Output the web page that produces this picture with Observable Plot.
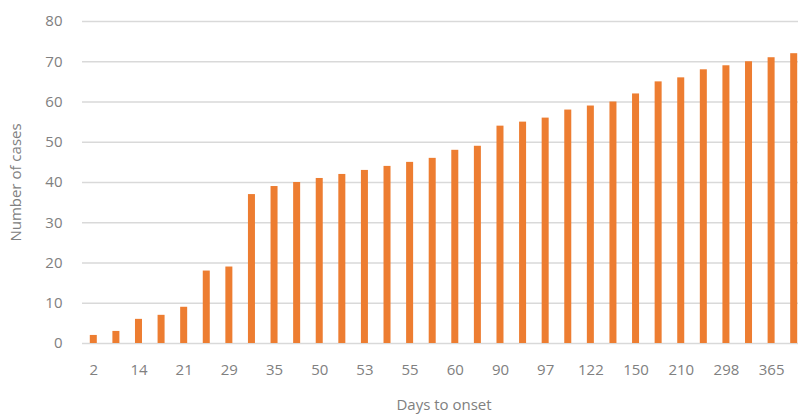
<!DOCTYPE html>
<html>
<head>
<meta charset="utf-8">
<script src="https://cdn.jsdelivr.net/npm/d3@7"></script>
<script src="https://cdn.jsdelivr.net/npm/@observablehq/plot@0.6"></script>
<style>
  html, body { margin: 0; padding: 0; background: #fff; overflow: hidden; }
  #chart { width: 798px; height: 414px; }
</style>
</head>
<body>
<div id="chart"></div>
<script>
// Tick labels shown under every other bar (Excel skipped alternate labels)
const tickLabels = ["2","","14","","21","","29","","35","","50","","53","","55","","60","","90","","97","","122","","150","","210","","298","","365",""];
// Number of cases per bar
const cases = [2,3,6,7,9,18,19,37,39,40,41,42,43,44,45,46,48,49,54,55,56,58,59,60,62,65,66,68,69,70,71,72];
const yTicks = [0,10,20,30,40,50,60,70,80];

const data = cases.map((v, i) => ({i, label: tickLabels[i], cases: v}));

const chart = Plot.plot({
  width: 798,
  height: 414,
  marginLeft: 82,
  marginRight: -7,
  marginTop: 21,
  marginBottom: 71,
  style: {fontFamily: "'Open Sans', sans-serif", fontSize: "15px", color: "#808080", background: "#fff"},
  x: {type: "band", domain: data.map(d => d.i), paddingInner: 0.69, paddingOuter: 0.345, round: false},
  y: {domain: [0, 80]},
  marks: [
    Plot.gridY(yTicks, {stroke: "#d9d9d9", strokeOpacity: 1, strokeWidth: 1.5}),
    Plot.barY(data, {x: "i", y: "cases", fill: "#ED7D31"}),
    Plot.axisY(yTicks, {tickSize: 0, tickPadding: 20, label: "Number of cases", labelAnchor: "center", labelArrow: "none", labelOffset: 72, fill: "#808080", fontSize: 15}),
    Plot.axisX({tickSize: 0, tickPadding: 21, tickFormat: i => tickLabels[i], label: "Days to onset", labelAnchor: "center", labelArrow: "none", labelOffset: 66, fill: "#808080", fontSize: 15})
  ]
});
document.getElementById("chart").appendChild(chart);
</script>
</body>
</html>
